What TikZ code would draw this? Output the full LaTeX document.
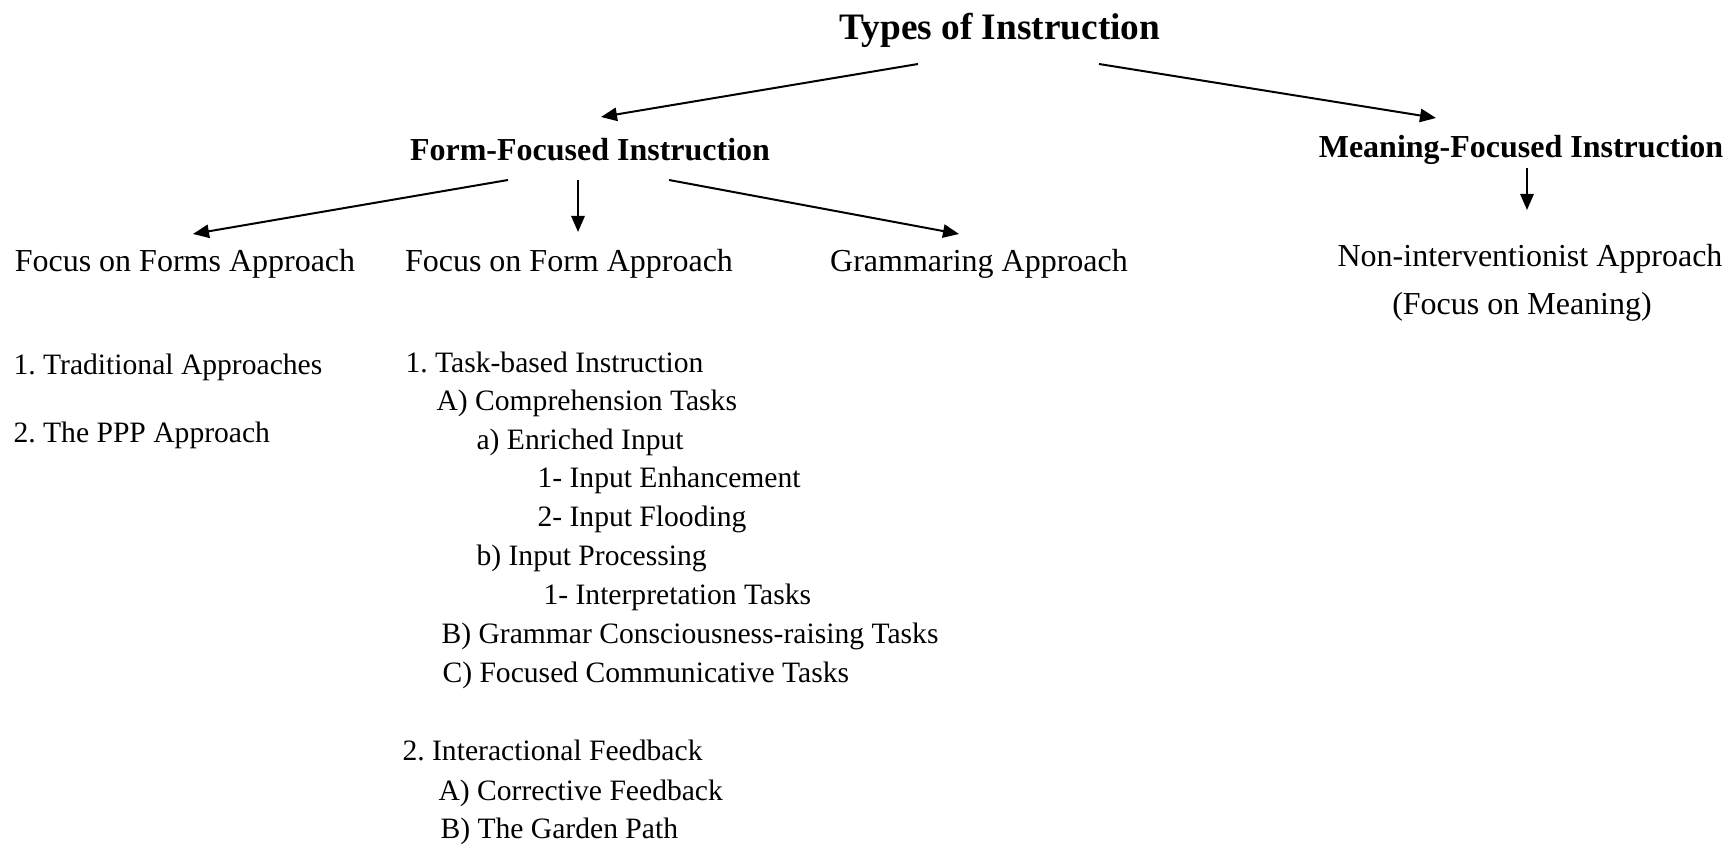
\documentclass[tikz,border=0pt]{standalone}
\usepackage{fontspec}
\setmainfont{Liberation Serif}
\usetikzlibrary{arrows.meta}
\frenchspacing
\begin{document}
\begin{tikzpicture}[x=0.375pt, y=-0.375pt, >={Triangle[length=6pt,width=5pt]}, line join=round,
		font=\fontsize{12}{14}\selectfont,
		head/.style={anchor=base, font=\fontsize{12}{14}\selectfont\bfseries, inner sep=0pt},
		appr/.style={anchor=base, inner sep=0pt},
		item/.style={anchor=base west, font=\fontsize{11.1}{13}\selectfont, inner sep=0pt},
		arr/.style={->, line width=0.75pt}]
				\useasboundingbox (0,0) rectangle (1729,848);
				\path (1000,40) node[head, font=\fontsize{14}{16}\selectfont\bfseries] (types) {Types of Instruction};
				\path (590,161) node[head] (ffi) {Form-Focused Instruction} (1521,158) node[head] (mfi) {Meaning-Focused Instruction};
				\path (185,272) node[appr] (fofs) {Focus on Forms Approach} (569,272) node[appr] (fof) {Focus on Form Approach};
				\path (979,272) node[appr] (gram) {Grammaring Approach};
				\path (1530,266) node[appr] (nonint) {Non-interventionist Approach} (1522,315) node[appr] (fom) {(Focus on Meaning)};
				\draw [arr] ([shift={(-82,24)}]types.base)--([shift={(11,-44)}]ffi.base);
				\draw [arr] ([shift={(99,24)}]types.base)--([shift={(-85,-40)}]mfi.base);
				\draw [arr] ([shift={(-82,19)}]ffi.base)--([shift={(8,-38)}]fofs.base);
				\draw [arr] ([shift={(-12,19)}]ffi.base)--([shift={(9,-40)}]fof.base);
				\draw [arr] ([shift={(79,19)}]ffi.base)--([shift={(-20,-38)}]gram.base);
				\draw [arr] ([shift={(6,10)}]mfi.base)--([shift={(-3,-56)}]nonint.base);
				\path (13,374) node[item] (trad) {1. Traditional Approaches} (13,442) node[item] (ppp) {2. The PPP Approach};
				\foreach \x/\y/\txt [count=\i] in {405/372/{1. Task-based Instruction}, 436/410/{A) Comprehension Tasks},
						476/449/{a) Enriched Input}, 537/487/{1- Input Enhancement}, 537/526/{2- Input Flooding},
						476/565/{b) Input Processing}, 543/604/{1- Interpretation Tasks},
						441/643/{B) Grammar Consciousness-raising Tasks}, 442/682/{C) Focused Communicative Tasks},
						402/760/{2. Interactional Feedback}, 438/800/{A) Corrective Feedback}, 440/838/{B) The Garden Path}}
					\path (\x,\y) node[item] (task\i) {\txt};
			\end{tikzpicture}
\end{document}
